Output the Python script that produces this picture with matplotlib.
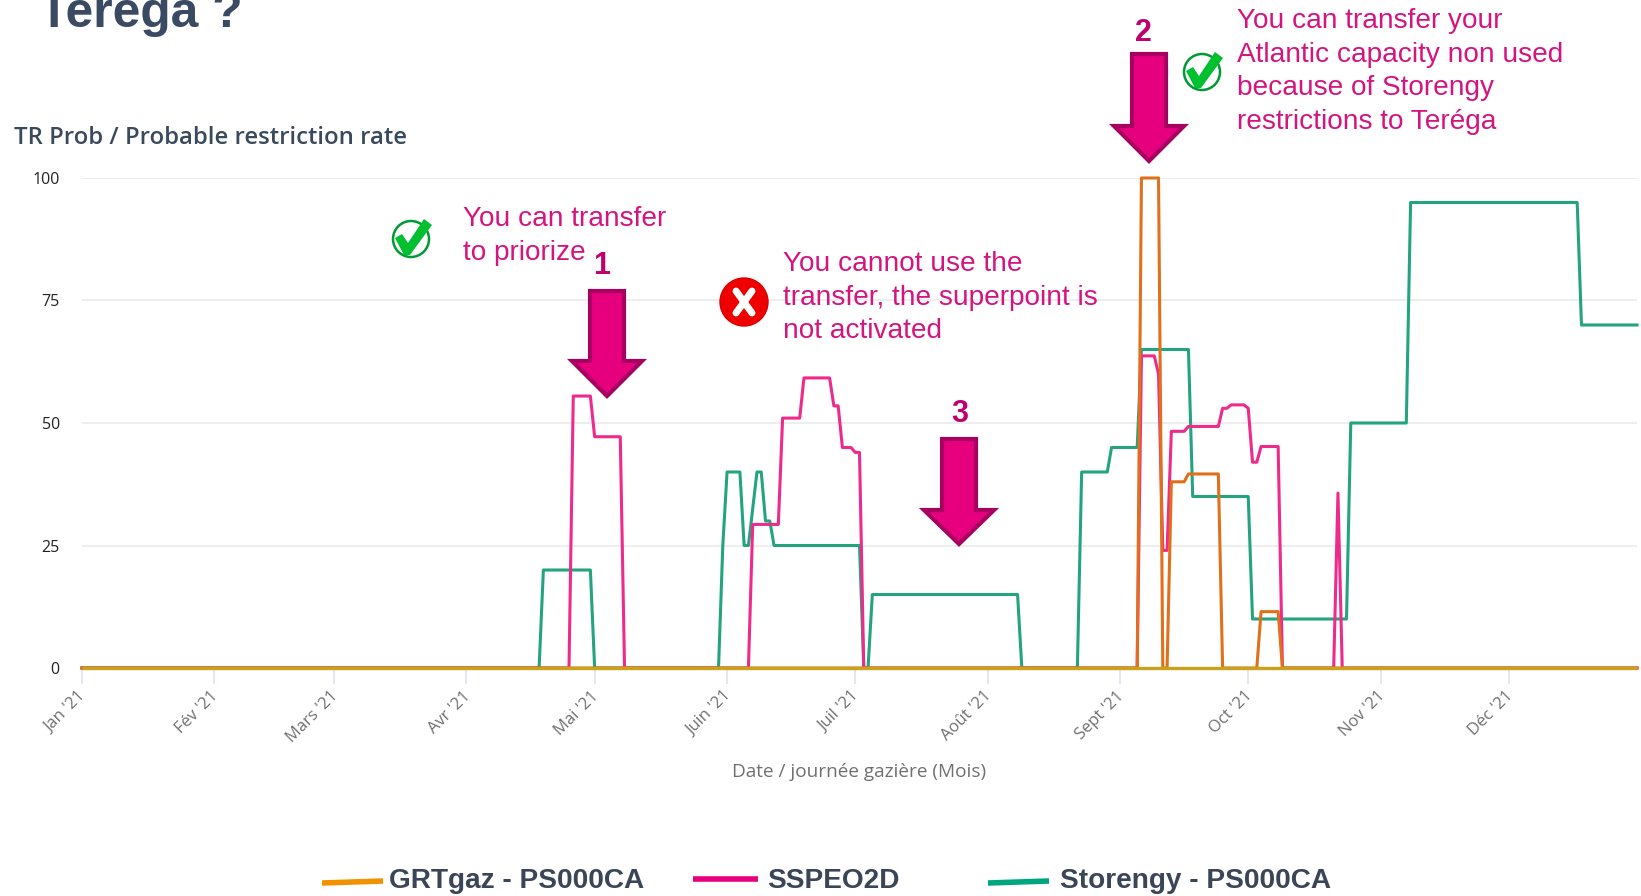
#!/usr/bin/env python
"""Taux de restriction probable 2021, avec annotations"""

import matplotlib
matplotlib.use('Agg')
import matplotlib.pyplot as plt
from matplotlib.patches import Circle, Ellipse, Polygon
from matplotlib.transforms import ScaledTranslation
import pandas as pd

# Jours comptés depuis le 1er janvier 2021, et valeurs (%)
JOURS_STORENGY = [0, 107, 108, 119, 120, 149, 150, 151, 154, 155, 156, 158, 159, 160, 161, 162,
                  182, 183, 184, 185, 219, 220, 233, 234, 240, 241, 247, 248, 259, 260, 273, 274,
                  296, 297, 310, 311, 350, 351, 364]
TR_STORENGY = [0, 0, 20, 20, 0, 0, 25, 40, 40, 25, 25, 40, 40, 30, 30, 25,
               25, 0, 0, 15, 15, 0, 0, 40, 40, 45, 45, 65, 65, 35, 35, 10,
               10, 50, 50, 95, 95, 70, 70]

JOURS_SSPEO = [0, 114, 115, 119, 120, 126, 127, 156, 157, 163, 164, 168, 169, 175, 176, 177,
               178, 180, 181, 182, 183, 247, 248, 251, 252, 253, 254, 255, 258, 259, 266, 267,
               268, 269, 272, 273, 274, 275, 276, 280, 281, 293, 294, 295, 364]
TR_SSPEO = [0, 0, 55.5, 55.5, 47.2, 47.2, 0, 0, 29.3, 29.3, 51, 51, 59.2, 59.2, 53.5, 53.5,
            45, 45, 44, 44, 0, 0, 63.7, 63.7, 60, 24, 24, 48.3, 48.3, 49.3, 49.3, 53,
            53, 53.7, 53.7, 53, 42, 42, 45.2, 45.2, 0, 0, 35.7, 0, 0]

JOURS_GRTGAZ = [0, 247, 248, 252, 253, 254, 255, 258, 259, 266, 267, 275, 276, 280, 281, 364]
TR_GRTGAZ = [0, 0, 100, 100, 0, 0, 38, 38, 39.6, 39.6, 0, 0, 11.5, 11.5, 0, 0]

MOIS = ["Jan '21", "Fév '21", "Mars '21", "Avr '21", "Mai '21", "Juin '21",
        "Juil '21", "Août '21", "Sept '21", "Oct '21", "Nov '21", "Déc '21"]
Y_TICKS = [0, 25, 50, 75, 100]

NOM_GRTGAZ = 'GRTgaz - PS000CA'
NOM_SSPEO = 'SSPEO2D'
NOM_STORENGY = 'Storengy - PS000CA'

ROSE = '#d5157f'
ROSE_FONCE = '#a80060'
ROSE_VIF = '#e6007e'
SANS = 'Liberation Sans'


def dates(jours):
    return pd.Timestamp('2021-01-01') + pd.to_timedelta(jours, unit='D')


def fleche(ax, cx, haut, col, pointe):
    """Grosse flèche vers le bas, en pixels de la figure"""
    points = [(cx - 17, haut), (cx + 17, haut), (cx + 17, col), (cx + 35, col),
              (cx, pointe), (cx - 35, col), (cx - 17, col)]
    ax.add_patch(Polygon(points, closed=True, facecolor=ROSE_VIF, edgecolor=ROSE_FONCE,
                         linewidth=3, joinstyle='miter'))


def coche(ax, cx, cy):
    """Rond vert et coche"""
    ax.add_patch(Ellipse((cx, cy), 36, 36, facecolor='white', edgecolor='#009a35', linewidth=1.8))
    points = [(cx - 16, cy - 1), (cx - 9, cy - 5), (cx - 3, cy + 4), (cx + 13, cy - 20),
              (cx + 21, cy - 14), (cx - 1, cy + 16), (cx - 7, cy + 16)]
    ax.add_patch(Polygon(points, closed=True, facecolor='#00c030', edgecolor='none'))


def lignes(ax, x, y, textes):
    """Texte rose, une ligne à la fois"""
    for i, t in enumerate(textes):
        ax.text(x, y + i * 33.7, t, color=ROSE, fontsize=20.2, family=SANS, va='baseline')


fig = plt.figure(figsize=(16.41, 8.96), dpi=100, facecolor='w')
ax = fig.add_axes([82 / 1641, 1 - 668 / 896, 1555 / 1641, 490 / 896])

ax.plot(dates(JOURS_STORENGY), TR_STORENGY, color='#23a47e', linewidth=2.2, clip_on=False, zorder=3)
ax.plot(dates(JOURS_SSPEO), TR_SSPEO, color='#ee2a8c', linewidth=2.2, clip_on=False, zorder=4)
ax.plot(dates(JOURS_GRTGAZ), TR_GRTGAZ, color='#e0701a', linewidth=2.2, clip_on=False, zorder=5)
# Ligne de base dorée (superposition des trois séries à zéro)
ax.axhline(0, color='#c9a11a', linewidth=2.4, zorder=6, clip_on=False, solid_capstyle='butt')

ax.set_xlim(pd.Timestamp('2021-01-01'), pd.Timestamp('2021-12-31'))
ax.set_ylim(0, 100)
for s in ax.spines.values():
    s.set_visible(False)
ax.set_xticks(pd.date_range('2021-01-01', periods=12, freq='MS'))
ax.set_xticklabels(MOIS, rotation=45, ha='right', rotation_mode='anchor',
                   fontsize=12, color='#707070', family='Open Sans')
ax.tick_params(axis='x', length=11.5, width=1.2, color='#dde3f0', pad=3)
decale = ScaledTranslation(-4 / 100, 0, fig.dpi_scale_trans)
for lab in ax.get_xticklabels():
    lab.set_transform(lab.get_transform() + decale)
ax.set_yticks(Y_TICKS)
ax.tick_params(axis='y', length=0, pad=16, labelsize=11.5, labelcolor='#222222')
for lab in ax.get_yticklabels():
    lab.set_family('Open Sans')
ax.grid(axis='y', color='#eeeeee', linewidth=1.5)
ax.set_axisbelow(True)

# Calque en pixels pour les annotations
over = fig.add_axes([0, 0, 1, 1], facecolor='none')
over.set_xlim(0, 1641)
over.set_ylim(896, 0)
over.axis('off')

over.text(39, 27, 'Teréga ?', fontsize=35.8, fontweight='bold', color='#3a4a63', family=SANS)
over.text(14, 144, 'TR Prob / Probable restriction rate', fontsize=17.2, color='#3a4a5e',
          family='Open Sans', fontweight='semibold')
over.text(859, 777, 'Date / journée gazière (Mois)', fontsize=13.7, color='#707070',
          family='Open Sans', ha='center')

lignes(over, 463, 226, ['You can transfer', 'to priorize'])
lignes(over, 783, 271, ['You cannot use the', 'transfer, the superpoint is', 'not activated'])
lignes(over, 1237, 28, ['You can transfer your', 'Atlantic capacity non used',
                        'because of Storengy', 'restrictions to Teréga'])

fleche(over, 607, 291, 361, 396)
fleche(over, 1149, 54, 126, 161)
fleche(over, 959, 439, 510, 544)
for cx, base, num in [(602, 274, '1'), (1143, 41, '2'), (960, 422, '3')]:
    over.text(cx, base, num, fontsize=22, fontweight='bold', color='#c0006f', family=SANS, ha='center')

coche(over, 411, 239)
coche(over, 1202, 72)
over.add_patch(Circle((744, 302), 24, facecolor='#ee0000', edgecolor='#d80000', linewidth=1))
over.plot([736, 752], [291, 313], color='white', linewidth=5, solid_capstyle='round')
over.plot([752, 736], [291, 313], color='white', linewidth=5, solid_capstyle='round')

# Légende
for x0, x1, y0, y1, col, x_t, nom in [
        (322, 383, 883, 881, '#f39200', 389, NOM_GRTGAZ),
        (693, 758, 879, 879, ROSE_VIF, 767, NOM_SSPEO),
        (988, 1049, 883, 881, '#00a77e', 1060, NOM_STORENGY)]:
    over.plot([x0, x1], [y0, y1], color=col, linewidth=4, solid_capstyle='butt')
    over.text(x_t, 888, nom, fontsize=20.2, fontweight='bold', color='#3a4657', family=SANS)

over.set_xlim(0, 1641)
over.set_ylim(896, 0)
fig.savefig('out.png', dpi=100)
